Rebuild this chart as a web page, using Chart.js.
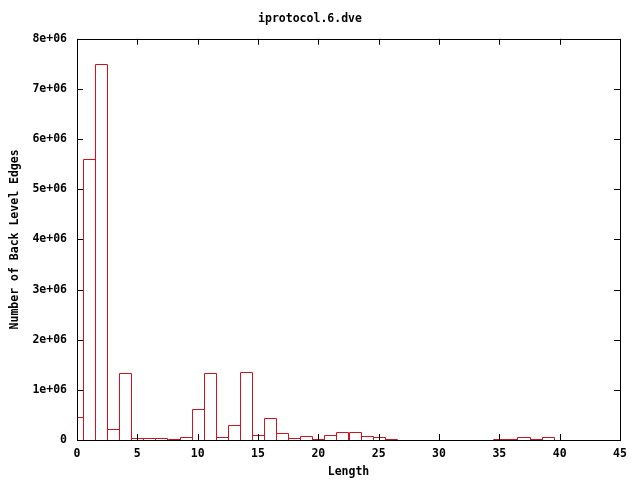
<!DOCTYPE html>
<html>
<head>
<meta charset="utf-8">
<script src="https://cdn.jsdelivr.net/npm/chart.js@4/dist/chart.umd.min.js"></script>
<style>
  html, body { margin: 0; padding: 0; background: #fff; }
  #wrap { width: 640px; height: 480px; }
</style>
</head>
<body>
<div id="wrap"><canvas id="histChart" width="640" height="480"></canvas></div>
<script>
// Histogram data
const lengths = [0, 1, 2, 3, 4, 5, 6, 7, 8, 9, 10, 11, 12, 13, 14, 15, 16, 17, 18, 19, 20,
  21, 22, 23, 24, 25, 26, 35, 36, 37, 38, 39];
const edgeCounts = [465000, 5600000, 7500000, 220000, 1330000, 30000, 35000, 35000, 20000, 55000,
  610000, 1330000, 55000, 290000, 1350000, 95000, 430000, 130000, 35000, 75000, 15000,
  95000, 155000, 155000, 75000, 55000, 15000, 15000, 15000, 55000, 15000, 55000];
const xTicks = [0, 5, 10, 15, 20, 25, 30, 35, 40, 45];
const yTicks = [0, 1e6, 2e6, 3e6, 4e6, 5e6, 6e6, 7e6, 8e6];

const fontFam = '"DejaVu Sans Mono", "Liberation Mono", monospace';
const barColor = '#d0141e';

// outline each bar on whole pixels so shared edges stay one crisp line
const boxOutline = {
  id: 'boxOutline',
  afterDatasetsDraw(chart) {
    const { ctx, chartArea: a } = chart;
    const meta = chart.getDatasetMeta(0);
    ctx.save();
    ctx.beginPath();
    ctx.rect(a.left, a.top, a.right - a.left, a.bottom - a.top);
    ctx.clip();
    ctx.strokeStyle = barColor;
    ctx.lineWidth = 1;
    ctx.beginPath();
    meta.data.forEach(bar => {
      const p = bar.getProps(['x', 'y', 'base', 'width'], true);
      const l = Math.round(p.x - p.width / 2) + 0.5;
      const r = Math.round(p.x + p.width / 2) + 0.5;
      const t = Math.round(p.y) + 0.5;
      const b = Math.round(p.base) + 0.5;
      ctx.rect(l, t, r - l, b - t);
    });
    ctx.stroke();
    ctx.restore();
  }
};

// gnuplot style frame: border plus inward ticks on all four sides
const framePlugin = {
  id: 'frame',
  afterDraw(chart) {
    const { ctx, chartArea: a, scales } = chart;
    const len = 6;
    ctx.save();
    ctx.strokeStyle = '#000';
    ctx.lineWidth = 1;
    ctx.beginPath();
    xTicks.forEach(v => {
      const px = Math.round(scales.x.getPixelForValue(v)) + 0.5;
      ctx.moveTo(px, a.bottom); ctx.lineTo(px, a.bottom - len);
      ctx.moveTo(px, a.top); ctx.lineTo(px, a.top + len);
    });
    yTicks.forEach(v => {
      const py = Math.round(scales.y.getPixelForValue(v)) + 0.5;
      ctx.moveTo(a.left, py); ctx.lineTo(a.left + len, py);
      ctx.moveTo(a.right, py); ctx.lineTo(a.right - len, py);
    });
    ctx.stroke();
    ctx.strokeRect(Math.round(a.left) + 0.5, Math.round(a.top) + 0.5,
      Math.round(a.right - a.left), Math.round(a.bottom - a.top));
    ctx.restore();
  }
};

const ctx = document.getElementById('histChart').getContext('2d');
new Chart(ctx, {
  type: 'bar',
  data: {
    datasets: [{
      data: lengths.map((x, i) => ({ x: x, y: edgeCounts[i] })),
      backgroundColor: 'rgba(0,0,0,0)',
      borderColor: barColor,
      borderWidth: 0,
      barPercentage: 1,
      categoryPercentage: 1
    }]
  },
  options: {
    responsive: false,
    animation: false,
    layout: { padding: { left: 0, right: 20, top: 0, bottom: 0 } },
    plugins: {
      legend: { display: false },
      tooltip: { enabled: false },
      title: {
        display: true,
        text: 'iprotocol.6.dve',
        color: '#000',
        font: { family: fontFam, size: 11.5, weight: 'bold' },
        padding: { top: 12, bottom: 13 }
      }
    },
    scales: {
      x: {
        type: 'linear',
        offset: false,
        min: 0,
        max: 45,
        afterFit(scale) { scale.height = 40; },
        afterBuildTicks(scale) { scale.ticks = xTicks.map(v => ({ value: v })); },
        grid: { display: false, drawTicks: false, offset: false },
        border: { display: false },
        ticks: {
          color: '#000',
          padding: 7,
          maxRotation: 0,
          font: { family: fontFam, size: 11.5, weight: 'bold' }
        },
        title: {
          display: true,
          text: 'Length',
          color: '#000',
          font: { family: fontFam, size: 11.5, weight: 'bold' },
          padding: { top: 0, bottom: 1 }
        }
      },
      y: {
        min: 0,
        max: 8e6,
        afterFit(scale) { scale.width = 77; },
        afterBuildTicks(scale) { scale.ticks = yTicks.map(v => ({ value: v })); },
        grid: { display: false, drawTicks: false },
        border: { display: false },
        ticks: {
          color: '#000',
          padding: 10,
          font: { family: fontFam, size: 11.5, weight: 'bold' },
          callback: v => v === 0 ? '0' : (v / 1e6) + 'e+06'
        },
        title: {
          display: true,
          text: 'Number of Back Level Edges',
          color: '#000',
          font: { family: fontFam, size: 11.5, weight: 'bold' },
          padding: { top: 8, bottom: 0 }
        }
      }
    }
  },
  plugins: [boxOutline, framePlugin]
});
</script>
</body>
</html>
